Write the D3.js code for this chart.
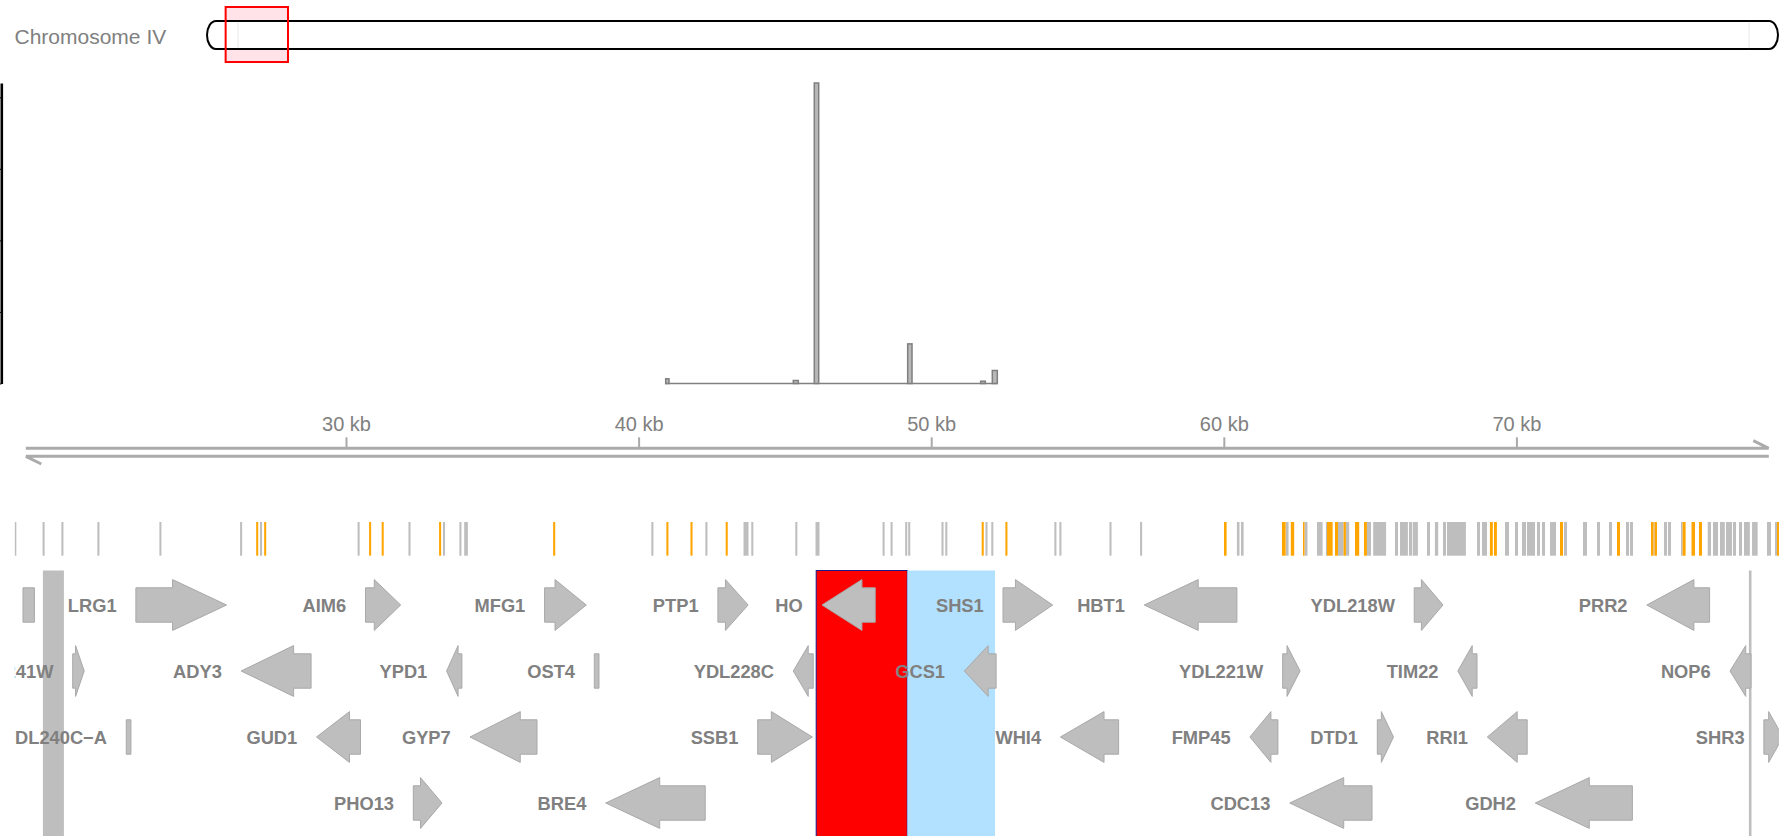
<!DOCTYPE html>
<html>
<head>
<meta charset="utf-8">
<script src="https://cdn.jsdelivr.net/npm/d3@7"></script>
<style>
  html, body { margin: 0; padding: 0; background: #fff; }
  svg { display: block; font-family: "Liberation Sans", Arial, Helvetica, sans-serif; }
</style>
</head>
<body>
<svg id="chart" width="1779" height="836"></svg>
<script>
// ---------------- DATA ----------------
const chromName = "Chromosome IV";
const chromLength = 1531933;           // bp
const viewRange = [18.175, 78.974];    // kb shown
const axisTicks = [30, 40, 50, 60, 70]; // kb

// data track (histogram) bins, kb
const binStarts = [40.926, 45.287, 46.004, 49.196, 51.691, 52.088];
const binEnds   = [41.038, 45.458, 46.155, 49.344, 51.849, 52.259];
const binValues = [0.33, 0.21, 21, 2.77, 0.16, 0.91];
const histExtent = [40.902, 52.259];
const yTicks = [0, 5, 10, 15, 20];
const yMax = 21;

// variant marks (kb); a number = narrow mark centred there, a pair = [start, end]
const grayMarks = [18.698, 19.665, 20.308, 21.538, 23.657, 26.415, 27.095, 30.431, 32.170, 33.349, 33.910, [34.039,34.165],
  40.471, 42.317, [43.585,43.756], 43.886, 45.390, [46.046,46.183], 48.373, 48.646, 49.145, 49.248, 50.386, 50.516,
  51.890, 52.088, 54.244, 54.415, 56.127, 57.173,
  [60.447,60.536],[60.587,60.676],[62.125,62.214],[62.757,62.860],[63.184,63.376],[63.489,63.526],[63.902,64.094],
  [64.172,64.285],[64.890,65.030],[65.105,65.546],[65.850,65.953],[66.021,66.291],[66.329,66.442],[66.466,66.633],
  [66.944,67.047],[67.214,67.327],[67.491,67.593],[67.627,68.274],[68.653,68.755],[68.824,68.995],[69.610,69.746],
  [69.951,70.054],[70.191,70.328],[70.361,70.635],[70.703,70.806],[70.874,70.977],[71.148,71.353],[71.626,71.729],
  [72.275,72.412],[72.754,72.856],[73.164,73.266],[73.745,73.848],[73.882,73.985],[74.685,74.720],[75.044,75.146],
  [75.180,75.283],[75.625,75.679],[76.538,76.650],[76.718,76.889],[76.958,77.122],[77.163,77.368],[77.402,77.505],
  [77.607,77.710],[77.778,77.977],[78.053,78.244],[78.563,78.700],[78.837,78.905]];
const orangeMarks = [26.965, 27.238, 30.824, 31.254, 33.216, 37.115, 40.984, 41.808, 43.011, 51.760, 52.570,
  [60.006,60.095],[61.988,62.115],[62.289,62.405],[62.706,62.757],[63.526,63.718],[63.800,63.902],[64.094,64.172],
  [64.483,64.627],[64.791,64.890],[69.094,69.193],[69.234,69.333],[71.489,71.592],[73.437,73.540],[74.600,74.685],
  [74.720,74.804],[75.679,75.782],[75.984,76.103],[76.239,76.342],[78.905,78.973]];

// genes (kb)
const geneNames   = ["", "LRG1", "AIM6", "MFG1", "PTP1", "HO", "SHS1", "HBT1", "YDL218W", "PRR2",
                     "YDL241W", "ADY3", "YPD1", "OST4", "YDL228C", "GCS1", "YDL221W", "TIM22", "NOP6",
                     "YDL240C\u2212A", "GUD1", "GYP7", "SSB1", "WHI4", "FMP45", "DTD1", "RRI1", "SHR3",
                     "PHO13", "BRE4", "CDC13", "GDH2"];
const geneStarts  = [18.961, 22.819, 30.666, 36.787, 42.710, 46.268, 52.454, 57.279, 66.507, 74.456,
                     20.660, 26.415, 33.438, 38.486, 45.287, 51.131, 62.012, 67.997, 77.299,
                     22.491, 28.992, 34.238, 44.070, 54.415, 60.892, 65.246, 69.005, 78.457,
                     32.300, 38.875, 62.252, 70.645];
const geneEnds    = [19.351, 25.919, 31.869, 38.212, 43.742, 48.086, 54.152, 60.447, 67.491, 76.602,
                     21.053, 28.807, 33.961, 38.646, 45.967, 52.218, 62.607, 68.653, 78.017,
                     22.649, 30.495, 36.528, 45.939, 56.404, 61.849, 65.799, 70.368, 79.111,
                     33.281, 42.276, 65.065, 73.964];
const geneStrands = ["*", "+", "+", "+", "+", "-", "+", "-", "+", "-",
                     "+", "-", "-", "*", "-", "-", "+", "-", "-",
                     "*", "-", "-", "+", "-", "-", "+", "-", "+",
                     "+", "-", "-", "-"];
const geneRows    = [0,0,0,0,0,0,0,0,0,0, 1,1,1,1,1,1,1,1,1, 2,2,2,2,2,2,2,2,2, 3,3,3,3];

// highlighted regions (kb)
const hlStarts = [19.641, 77.945, 46.069, 49.183];
const hlEnds   = [20.359, 78.034, 49.183, 52.181];
const hlKinds  = ["gray", "gray", "red", "blue"];

// ---------------- DRAW ----------------
const W = 1779, H = 836;
const svg = d3.select("#chart");
svg.append("rect").attr("width", W).attr("height", H).attr("fill", "#fff");

const x = d3.scaleLinear().domain(viewRange).range([0, W]);

// clip for the data panels
svg.append("defs").append("clipPath").attr("id", "panel")
  .append("rect").attr("x", 14.8).attr("y", 0).attr("width", W - 14.8).attr("height", H);

// ----- Ideogram -----
const xc = d3.scaleLinear().domain([0, chromLength]).range([207, 1778]);
svg.append("text").text(chromName)
  .attr("x", 14.5).attr("y", 43.5)
  .attr("font-size", 21).attr("fill", "#808080");
const rs = xc(viewRange[0] * 1000), re = xc(viewRange[1] * 1000);
svg.append("rect").attr("x", rs).attr("y", 7).attr("width", re - rs).attr("height", 55)
  .attr("fill", "#FFE3E8");
svg.append("rect").attr("x", xc(0)).attr("y", 21).attr("width", xc(chromLength) - xc(0)).attr("height", 28)
  .attr("rx", 9).attr("ry", 14).attr("fill", "#fff").attr("stroke", "#000").attr("stroke-width", 2);
[xc(0) + 31, xc(chromLength) - 29].forEach(px => {
  svg.append("line").attr("x1", px).attr("x2", px).attr("y1", 21).attr("y2", 49)
    .attr("stroke", "#888").attr("stroke-width", 0.5).attr("opacity", 0.35);
});
svg.append("rect").attr("x", rs).attr("y", 7).attr("width", re - rs).attr("height", 55)
  .attr("fill", "none").attr("stroke", "#FF0000").attr("stroke-width", 2);

// ----- Data track -----
const y = d3.scaleLinear().domain([0, yMax]).range([383.5, 83]);
const yAxis = svg.append("g").attr("transform", "translate(1.3,0)")
  .call(d3.axisLeft(y).tickValues(yTicks).tickFormat("").tickSize(6).tickSizeOuter(0));
yAxis.select(".domain").attr("stroke", "#000").attr("stroke-width", 2.6);
yAxis.selectAll(".tick line").attr("stroke", "#000");

svg.append("line")
  .attr("x1", x(histExtent[0])).attr("x2", x(histExtent[1]))
  .attr("y1", y(0)).attr("y2", y(0))
  .attr("stroke", "#808080").attr("stroke-width", 1.4);
svg.append("g").selectAll("rect").data(binValues).join("rect")
  .attr("x", (d, i) => x(binStarts[i]))
  .attr("width", (d, i) => x(binEnds[i]) - x(binStarts[i]))
  .attr("y", d => y(d))
  .attr("height", d => y(0) - y(d))
  .attr("fill", "#B8B8B8").attr("stroke", "#7F7F7F").attr("stroke-width", 1.5);

// ----- Genome axis -----
const gAx = svg.append("g").attr("transform", "translate(0,448.3)")
  .call(d3.axisTop(x).tickValues(axisTicks).tickSize(11).tickPadding(6.6)
        .tickFormat(d => d + " kb"));
gAx.select(".domain").remove();
gAx.selectAll(".tick line").attr("stroke", "#AAAAAA").attr("stroke-width", 2);
gAx.selectAll(".tick text").attr("fill", "#808080").attr("font-size", 20)
  .attr("font-family", "'Liberation Sans', Arial, sans-serif");
const axG = svg.append("g").attr("stroke", "#ABABAB").attr("stroke-width", 3).attr("fill", "none")
  .attr("stroke-linecap", "butt");
axG.append("path").attr("d", "M25.8,448.3H1768.8M1768.8,448.3L1753.3,440.7");
axG.append("path").attr("d", "M25.8,456.3H1768.8M25.8,456.3L41.3,464");

// ----- Variant marks -----
const markG = svg.append("g").attr("clip-path", "url(#panel)");
const toRange = m => Array.isArray(m) ? m : [m - 0.035, m + 0.035];
markG.append("g").selectAll("rect").data(grayMarks.map(toRange)).join("rect")
  .attr("x", d => x(d[0])).attr("width", d => Math.max(1, x(d[1]) - x(d[0])))
  .attr("y", 522).attr("height", 33.7).attr("fill", "#BEBEBE");
markG.append("g").selectAll("rect").data(orangeMarks.map(toRange)).join("rect")
  .attr("x", d => x(d[0])).attr("width", d => Math.max(1, x(d[1]) - x(d[0])))
  .attr("y", 522).attr("height", 33.7).attr("fill", "#FFA500");

// ----- Highlights (background) -----
const hlFill = { gray: "#BEBEBE", red: "#FF0000", blue: "#B2E1FF" };
const geneG = svg.append("g").attr("clip-path", "url(#panel)");
geneG.append("g").selectAll("rect").data(hlKinds).join("rect")
  .attr("x", (d, i) => x(hlStarts[i]))
  .attr("width", (d, i) => x(hlEnds[i]) - x(hlStarts[i]))
  .attr("y", 570.5).attr("height", H - 570.5 + 2)
  .attr("fill", d => hlFill[d])
  .attr("stroke", d => d === "red" ? "#1A1A8C" : "none")
  .attr("stroke-width", 1);

// ----- Genes -----
const rowY = r => 605 + 66 * r;
function genePath(i) {
  const x0 = x(geneStarts[i]), x1 = x(geneEnds[i]), cy = rowY(geneRows[i]);
  const bh = 17.2, hh = 25.4;
  const len = x1 - x0;
  if (geneStrands[i] === "*") {
    return `M${x0},${cy - bh}H${x1}V${cy + bh}H${x0}Z`;
  }
  const h = Math.min(0.75 * len, 54);
  if (geneStrands[i] === "+") {
    const xb = x1 - h;
    return `M${x0},${cy - bh}H${xb}V${cy - hh}L${x1},${cy}L${xb},${cy + hh}V${cy + bh}H${x0}Z`;
  } else {
    const xb = x0 + h;
    return `M${x1},${cy - bh}H${xb}V${cy - hh}L${x0},${cy}L${xb},${cy + hh}V${cy + bh}H${x1}Z`;
  }
}
geneG.append("g").selectAll("path").data(geneNames).join("path")
  .attr("d", (d, i) => genePath(i))
  .attr("fill", "#BEBEBE").attr("stroke", "#A9A9A9").attr("stroke-width", 1);
geneG.append("g").selectAll("text").data(geneNames.map((n, i) => ({ n, i })).filter(d => d.n !== ""))
  .join("text")
  .attr("x", d => x(geneStarts[d.i]) - 19.3)
  .attr("y", d => rowY(geneRows[d.i]) + 6.8)
  .attr("text-anchor", "end")
  .attr("font-size", 18.3).attr("font-weight", "bold").attr("fill", "#808080")
  .text(d => d.n);
</script>
</body>
</html>
